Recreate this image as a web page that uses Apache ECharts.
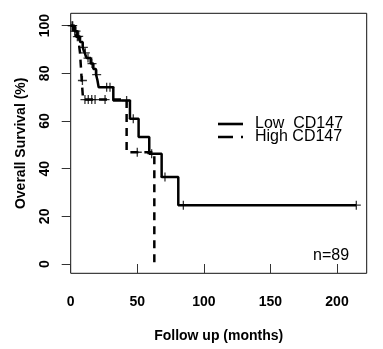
<!DOCTYPE html>
<html>
<head>
<meta charset="utf-8">
<script src="https://cdn.jsdelivr.net/npm/echarts@6/dist/echarts.min.js"></script>
<style>
html,body{margin:0;padding:0;background:#fff;}
#chart{width:383px;height:349px;}
</style>
</head>
<body>
<div id="chart"></div>
<script>
// ---- data ----
const lowTimes = [0, 3, 5, 7, 9, 10.5, 12, 15, 17, 19, 20, 21, 32, 44.5, 51, 59, 68.3, 80.8, 214.5];
const lowSurv  = [100, 97.7, 95.5, 93.2, 90.9, 88.6, 86.4, 84.1, 81.8, 79.5, 77.3, 74.2, 68.6, 61, 53.3, 46.3, 36.5, 24.7, 24.7];
const lowCensorTimes = [1.5, 4, 6, 9.5, 11, 13, 16, 19.5, 27, 29.5, 42, 47, 60.8, 70.8, 84.6, 214.5];
const lowCensorSurv  = [100, 97.7, 95.5, 90.9, 88.6, 86.4, 84.1, 79.5, 74.2, 74.2, 68.6, 61, 46.3, 36.5, 24.7, 24.7];

const highTimes = [0, 2, 4, 6, 7, 8.3, 9.3, 42, 62.8];
const highSurv  = [100, 97.7, 95.4, 93.1, 88.6, 77, 69, 46.9, 0];
const highCensorTimes = [1, 3, 5, 8.8, 10.7, 13.2, 15.8, 18.3, 25.8, 50];
const highCensorSurv  = [100, 97.7, 95.4, 77, 69, 69, 69, 69, 69, 46.9];

const xTicks = [0, 50, 100, 150, 200];
const yTicks = [0, 20, 40, 60, 80, 100];
const seriesNames = ['Low  CD147', 'High CD147'];
const nLabel = 'n=89';
const xTitle = 'Follow up (months)';
const yTitle = 'Overall Survival (%)';

// ---- build ----
const zip = (a, b) => a.map((v, i) => [v, b[i]]);
const FONT = 'Liberation Sans, Arial, Helvetica, sans-serif';
const plus = 'path://M-1.3,-9h2.6v18h-2.6zM-9,-1.3h18v2.6h-18z';
const legendBase = {
  orient: 'vertical', left: 213,
  itemWidth: 25, itemHeight: 2.6, itemGap: 0,
  textStyle: {fontFamily: FONT, fontSize: 16, color: '#000', padding: [0, 0, 0, 7]}
};

const chart = echarts.init(document.getElementById('chart'), null, {renderer: 'canvas'});
chart.setOption({
  animation: false,
  backgroundColor: '#fff',
  grid: {left: 70.7, right: 16.3, top: 13.3, bottom: 75.7, show: true,
         borderColor: '#111', borderWidth: 1, backgroundColor: 'transparent',
         containLabel: false, outerBoundsMode: 'none'},
  xAxis: {
    type: 'value', min: 0, max: 222.3,
    axisLine: {show: false},
    splitLine: {show: false},
    axisTick: {show: true, length: 9, customValues: xTicks, lineStyle: {color: '#333', width: 1}},
    axisLabel: {customValues: xTicks, margin: 22, fontFamily: FONT, fontSize: 14, fontWeight: 'bold', color: '#000'},
    name: xTitle, nameLocation: 'middle', nameGap: 56,
    nameTextStyle: {fontFamily: FONT, fontSize: 14, fontWeight: 'bold', color: '#000'}
  },
  yAxis: {
    type: 'value', min: -3.9, max: 105.2,
    axisLine: {show: false},
    splitLine: {show: false},
    axisTick: {show: true, length: 9, customValues: yTicks, lineStyle: {color: '#333', width: 1}},
    axisLabel: {customValues: yTicks, rotate: 90, margin: 19, fontFamily: FONT, fontSize: 14, fontWeight: 'bold', color: '#000'},
    name: yTitle, nameLocation: 'middle', nameGap: 43, nameRotate: 90,
    nameTextStyle: {fontFamily: FONT, fontSize: 14, fontWeight: 'bold', color: '#000'}
  },
  legend: [
    Object.assign({}, legendBase, {top: 111,
      data: [{name: seriesNames[0], icon: 'path://M0,0h25v2.6h-25z', itemStyle: {color: '#000'}}]}),
    Object.assign({}, legendBase, {top: 124,
      data: [{name: seriesNames[1], icon: 'path://M0,0h15v2.6h-15zM23,0h2v2.6h-2z', itemStyle: {color: '#000'}}]})
  ],
  graphic: [{
    type: 'text', left: 313, top: 248,
    style: {text: nLabel, font: '16px ' + FONT, fill: '#000'}
  }],
  series: [
    {name: seriesNames[0], type: 'line', step: 'end', symbol: 'none',
     data: zip(lowTimes, lowSurv), lineStyle: {color: '#000', width: 2.5}, itemStyle: {color: '#000'}, z: 3},
    {name: seriesNames[1], type: 'line', step: 'end', symbol: 'none',
     data: zip(highTimes, highSurv), lineStyle: {color: '#000', width: 2.5, type: [8, 6]}, itemStyle: {color: '#000'}, z: 2},
    {name: 'lowCensor', type: 'scatter', symbol: plus, symbolSize: 9,
     data: zip(lowCensorTimes, lowCensorSurv), itemStyle: {color: '#000'}, z: 4},
    {name: 'highCensor', type: 'scatter', symbol: plus, symbolSize: 9,
     data: zip(highCensorTimes, highCensorSurv), itemStyle: {color: '#000'}, z: 4}
  ]
});
</script>
</body>
</html>
